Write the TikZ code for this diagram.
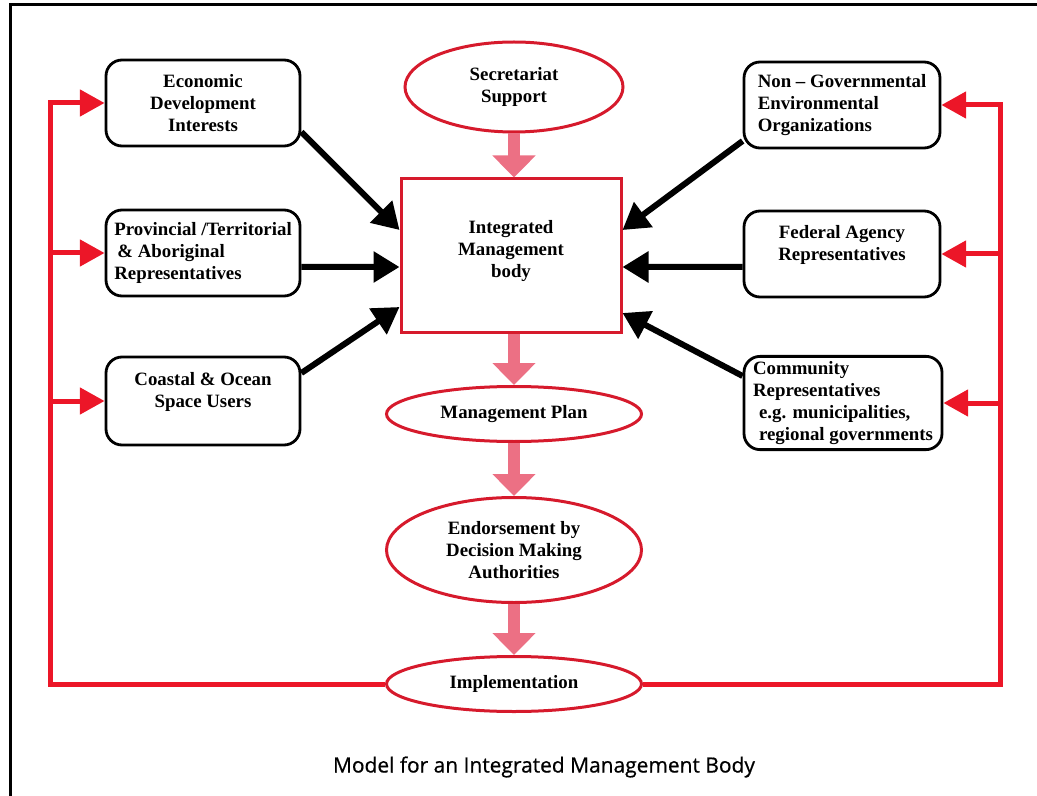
\documentclass[tikz,border=0pt]{standalone}
\usepackage{fontspec}
\setmainfont{Liberation Serif}
\newfontfamily\captionfont[FakeBold=0.7]{Open Sans}
\usepackage{xcolor}
\usepackage{tikz}
\usetikzlibrary{positioning, shapes, arrows, calc, arrows.meta}

\definecolor{loopred}{RGB}{236,22,40}
\definecolor{edgered}{RGB}{214,26,44}
\definecolor{flowpink}{RGB}{236,112,132}

\begin{document}
\begin{tikzpicture}[
    party/.style={draw, rounded corners=0.4cm, line width=0.07cm, minimum width=4.85cm, minimum height=2.15cm, font=\fontsize{13.4}{15.8}\selectfont\bfseries},
    stage/.style={draw=edgered, ellipse, line width=0.075cm, inner sep=0pt, minimum width=6.375cm, align=center, font=\fontsize{13.4}{15.8}\selectfont\bfseries},
    input/.style={-{Triangle[length=0.65cm, width=0.75cm]}, line width=0.15cm},
    flow/.style={-{Triangle[length=0.55cm, width=1.05cm]}, line width=0.3cm, draw=flowpink},
    feedback/.style={-{Triangle[length=0.62cm, width=0.65cm]}, line width=0.125cm, draw=loopred}
  ]
      \useasboundingbox (0,0) rectangle (25.925,-19.9);
      \draw[line width=0.075cm] (0.25,-19.9) |- (25.925,-0.125);

      % Central body
      \node[stage, minimum width=5.45cm, minimum height=2.25cm] (secr) at (12.85, -2.175) {
        Secretariat\\Support
      };

      \node[draw=edgered, rectangle, line width=0.075cm, minimum width=5.5cm, minimum height=3.85cm, align=center, text depth=0.35cm, font=\fontsize{13.4}{15.8}\selectfont\bfseries] (imb) at (12.775, -6.4) {
        Integrated\\Management\\body
      };

      % Planning stages
      \node[stage, minimum height=1.375cm] (plan) at (12.85, -10.35) {Management Plan};

      \node[stage, minimum height=2.625cm] (endo) at (12.85, -13.75) {
        Endorsement by\\Decision Making\\Authorities
      };

      \node[stage, minimum height=1.375cm] (impl) at (12.85, -17.1) {Implementation};

      % Interests on the left
      \node[party, align=center] (econ) at (5.075, -2.575) {
        Economic\\Development\\Interests
      };

      \node[party, align=left] (prov) at (5.075, -6.325) {
        Provincial /Territorial\\
        \,\& Aboriginal\\
        Representatives
      };

      \node[party, align=center, minimum height=2.2cm, text depth=0.55cm] (coast) at (5.075, -10.025) {
        Coastal \& Ocean\\Space Users
      };

      % Interests on the right
      \node[party, align=left, minimum width=4.9cm] (ngo) at (21.05, -2.625) {
        Non -- Governmental\\
        Environmental\\
        Organizations
      };

      \node[party, align=center, minimum width=4.9cm, text depth=0.55cm] (fed) at (21.05, -6.35) {
        Federal Agency\\Representatives
      };

      \node[party, align=left, minimum width=4.95cm, minimum height=2.25cm] (comm) at (21.075, -10.075) {
        Community\\
        Representatives\\
        \hspace*{0.15cm}e.g. municipalities,\\
        \hspace*{0.15cm}regional governments
      };

      % Inputs
      \draw[input] ([yshift=-0.725cm]econ.east) -- ([yshift=0.65cm]imb.west);
      \draw[input] ([yshift=-0.35cm]prov.east) -- ([yshift=-0.275cm]imb.west);
      \draw[input] ([yshift=0.7cm]coast.east) -- ([yshift=-1.275cm]imb.west);
      \draw[input] ([yshift=-0.9cm]ngo.west) -- ([yshift=0.65cm]imb.east);
      \draw[input] ([yshift=-0.325cm]fed.west) -- ([yshift=-0.275cm]imb.east);
      \draw[input] ([yshift=0.675cm]comm.west) -- ([yshift=-1.425cm]imb.east);

      % Process
      \draw[flow] (secr.south) -- (secr.south |- imb.north);
      \draw[flow] (imb.south -| plan.north) -- (plan.north);
      \draw[flow] (plan.south) -- (endo.north);
      \draw[flow] (endo.south) -- (impl.north);

      % Feedback loop
      \coordinate (lft) at (1.25, 0);
      \coordinate (rgt) at (25.0, 0);
      \draw[feedback] (impl.west) -| (lft |- econ.west) -- (econ.west);
      \draw[feedback] (lft |- prov.west) -- (prov.west);
      \draw[feedback] (lft |- coast.west) -- (coast.west);
      \draw[feedback] (impl.east) -| (rgt |- ngo.east) -- (ngo.east);
      \draw[feedback] (rgt |- fed.east) -- (fed.east);
      \draw[feedback] (rgt |- comm.east) -- (comm.east);

      % Caption
      \node[font=\captionfont\fontsize{14.9}{17}\selectfont] (title) at (13.6, -19.175) {Model for an Integrated Management Body};
    \end{tikzpicture}
\end{document}
